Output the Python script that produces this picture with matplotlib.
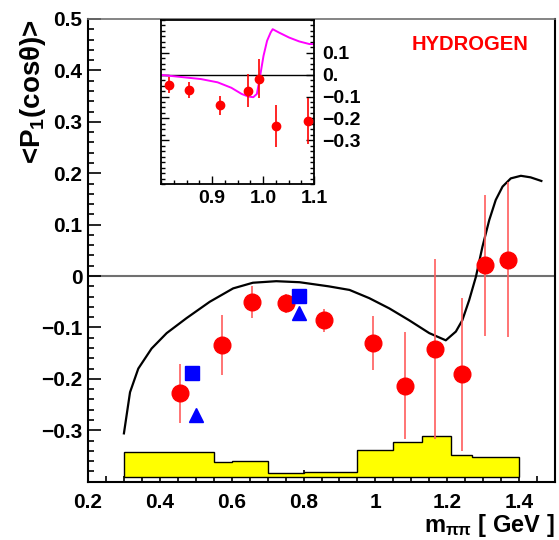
import matplotlib
matplotlib.use("Agg")
import matplotlib.pyplot as plt
from matplotlib.ticker import MultipleLocator, FixedLocator, FixedFormatter

plt.rcParams['font.family'] = ['Liberation Sans', 'DejaVu Sans']
plt.rcParams['font.weight'] = 'bold'
plt.rcParams['mathtext.fontset'] = 'custom'
plt.rcParams['mathtext.rm'] = 'Liberation Sans:bold'
plt.rcParams['mathtext.it'] = 'Liberation Sans:bold'
plt.rcParams['mathtext.bf'] = 'Liberation Sans:bold'

# ---- main data ----
x_data = [0.457, 0.573, 0.656, 0.750, 0.858, 0.994, 1.083, 1.165, 1.242, 1.306, 1.370]
y_data = [-0.228, -0.134, -0.051, -0.053, -0.086, -0.130, -0.213, -0.141, -0.191, 0.021, 0.032]
y_err = [0.057, 0.058, 0.031, 0.019, 0.022, 0.052, 0.104, 0.175, 0.149, 0.137, 0.150]

x_square = [0.490, 0.786]
y_square = [-0.189, -0.039]
x_tri = [0.500, 0.786]
y_tri = [-0.270, -0.071]

x_curve = [0.300, 0.317, 0.340, 0.377, 0.419, 0.474, 0.539, 0.604, 0.659, 0.724,
           0.789, 0.870, 0.928, 0.983, 1.039, 1.094, 1.150, 1.196, 1.224, 1.242,
           1.261, 1.280, 1.298, 1.317, 1.335, 1.354, 1.377, 1.405, 1.432, 1.462]
y_curve = [-0.306, -0.226, -0.180, -0.141, -0.111, -0.082, -0.050, -0.024, -0.013, -0.010,
           -0.012, -0.020, -0.027, -0.043, -0.063, -0.086, -0.111, -0.125, -0.108, -0.086,
           -0.047, -0.001, 0.057, 0.109, 0.148, 0.174, 0.190, 0.195, 0.192, 0.185]

sys_edges = [0.30, 0.55, 0.60, 0.70, 0.80, 0.95, 1.05, 1.13, 1.21, 1.27, 1.40]
sys_tops = [-0.342, -0.362, -0.359, -0.383, -0.381, -0.339, -0.323, -0.311, -0.348, -0.351]
sys_base = -0.39

x_ticks = [0.2, 0.4, 0.6, 0.8, 1.0, 1.2, 1.4]
x_ticklabels = ['0.2', '0.4', '0.6', '0.8', '1', '1.2', '1.4']
y_ticks = [0.5, 0.4, 0.3, 0.2, 0.1, 0.0, -0.1, -0.2, -0.3]
y_ticklabels = ['0.5', '0.4', '0.3', '0.2', '0.1', '0', '\u22120.1', '\u22120.2', '\u22120.3']

# ---- inset data ----
xi_data = [0.816, 0.855, 0.915, 0.970, 0.993, 1.026, 1.089]
yi_data = [-0.047, -0.070, -0.141, -0.074, -0.018, -0.235, -0.212]
yi_err = [0.038, 0.036, 0.044, 0.076, 0.090, 0.097, 0.104]

xi_curve = [0.800, 0.845, 0.878, 0.911, 0.938, 0.958, 0.971, 0.981, 0.988, 0.991,
            0.995, 1.001, 1.008, 1.015, 1.019, 1.031, 1.051, 1.071, 1.091, 1.100]
yi_curve = [-0.001, -0.012, -0.020, -0.035, -0.060, -0.088, -0.100, -0.103, -0.088, -0.050,
            0.003, 0.086, 0.155, 0.193, 0.208, 0.193, 0.170, 0.152, 0.140, 0.140]

xi_ticks = [0.9, 1.0, 1.1]
xi_ticklabels = ['0.9', '1.0', '1.1']
yi_ticks = [0.1, 0.0, -0.1, -0.2, -0.3]
yi_ticklabels = ['0.1', '0.', '\u22120.1', '\u22120.2', '\u22120.3']

W, H = 559, 540
fig = plt.figure(figsize=(W / 100, H / 100), dpi=100)
ax = fig.add_axes([88 / W, 1 - 481.7 / H, (555 - 88) / W, (481.7 - 19) / H])
ax.set_xlim(0.2, 1.5)
ax.set_ylim(-0.4, 0.5)

# systematic band
ax.stairs(sys_tops, sys_edges, baseline=sys_base, fill=True, color='#ffff00', zorder=2)
ax.stairs(sys_tops, sys_edges, baseline=sys_base, fill=False, color='black', lw=1.0, zorder=3)
ax.hlines(sys_base, sys_edges[0], sys_edges[-1], color='black', lw=1.0, zorder=3)

ax.axhline(0, color='#707070', lw=1.5, zorder=1)
ax.plot(x_curve, y_curve, color='black', lw=1.6, zorder=4)
ax.errorbar(x_data, y_data, yerr=y_err, fmt='none', ecolor='#ff5c5c', elinewidth=1.2, zorder=5)
ax.plot(x_data, y_data, 'o', color='red', ms=12, mec='red', zorder=6)
ax.plot(x_square, y_square, 's', color='blue', ms=10, zorder=6)
ax.plot(x_tri, y_tri, '^', color='blue', ms=10, zorder=6)

ax.xaxis.set_major_locator(FixedLocator(x_ticks))
ax.xaxis.set_major_formatter(FixedFormatter(x_ticklabels))
ax.xaxis.set_minor_locator(MultipleLocator(0.05))
ax.yaxis.set_major_locator(FixedLocator(y_ticks))
ax.yaxis.set_major_formatter(FixedFormatter(y_ticklabels))
ax.yaxis.set_minor_locator(MultipleLocator(0.02))
ax.tick_params(which='both', direction='in', top=False, right=False, labelsize=15, width=1.2)
ax.tick_params(which='major', length=9)
ax.tick_params(which='minor', length=4.5)
ax.tick_params(axis='x', pad=8)
ax.tick_params(axis='y', pad=4)
for lab in ax.get_xticklabels() + ax.get_yticklabels():
    lab.set_fontweight('bold')
for s in ['left', 'bottom', 'right']:
    ax.spines[s].set_linewidth(1.5)
ax.spines['top'].set_color('#707070')
ax.spines['top'].set_linewidth(1.2)

fig.text(33 / W, 1 - 92 / H, r'<P$_{1}$(cos$\theta$)>', rotation=90, fontsize=20,
         fontweight='bold', ha='center', va='center')
fig.text(555 / W, 1 - 532 / H, r'm$_{\pi\pi}$ [ GeV ]', fontsize=17, fontweight='bold',
         ha='right', va='baseline')
fig.text(470 / W, 1 - 44 / H, 'HYDROGEN', fontsize=14.5, fontweight='bold', color='red',
         ha='center', va='center')

# ---- inset ----
ins = fig.add_axes([161 / W, 1 - 184 / H, (314 - 161) / W, (184 - 20) / H])
ins.set_xlim(0.8, 1.1)
ins.set_ylim(-0.5, 0.25)
ins.axhline(0, color='black', lw=1.0, zorder=1)
ins.plot(xi_curve, yi_curve, color='#ff00ff', lw=1.4, zorder=2)
ins.errorbar(xi_data, yi_data, yerr=yi_err, fmt='none', ecolor='red', elinewidth=1.2, zorder=3)
ins.plot(xi_data, yi_data, 'o', color='red', ms=6, zorder=4)
ins.xaxis.set_major_locator(FixedLocator(xi_ticks))
ins.xaxis.set_major_formatter(FixedFormatter(xi_ticklabels))
ins.xaxis.set_minor_locator(MultipleLocator(0.025))
ins.yaxis.set_major_locator(FixedLocator(yi_ticks))
ins.yaxis.set_major_formatter(FixedFormatter(yi_ticklabels))
ins.yaxis.set_minor_locator(MultipleLocator(0.025))
ins.yaxis.tick_right()
ins.tick_params(which='both', direction='in', left=True, right=True, top=False,
                labelleft=False, labelright=True, labelsize=14, width=1.0)
ins.tick_params(which='major', length=6)
ins.tick_params(which='minor', length=3)
ins.tick_params(axis='y', pad=6)
ins.tick_params(axis='x', pad=4)
for lab in ins.get_xticklabels() + ins.get_yticklabels():
    lab.set_fontweight('bold')
for s in ins.spines.values():
    s.set_linewidth(1.3)

fig.savefig('out.png', dpi=100)
